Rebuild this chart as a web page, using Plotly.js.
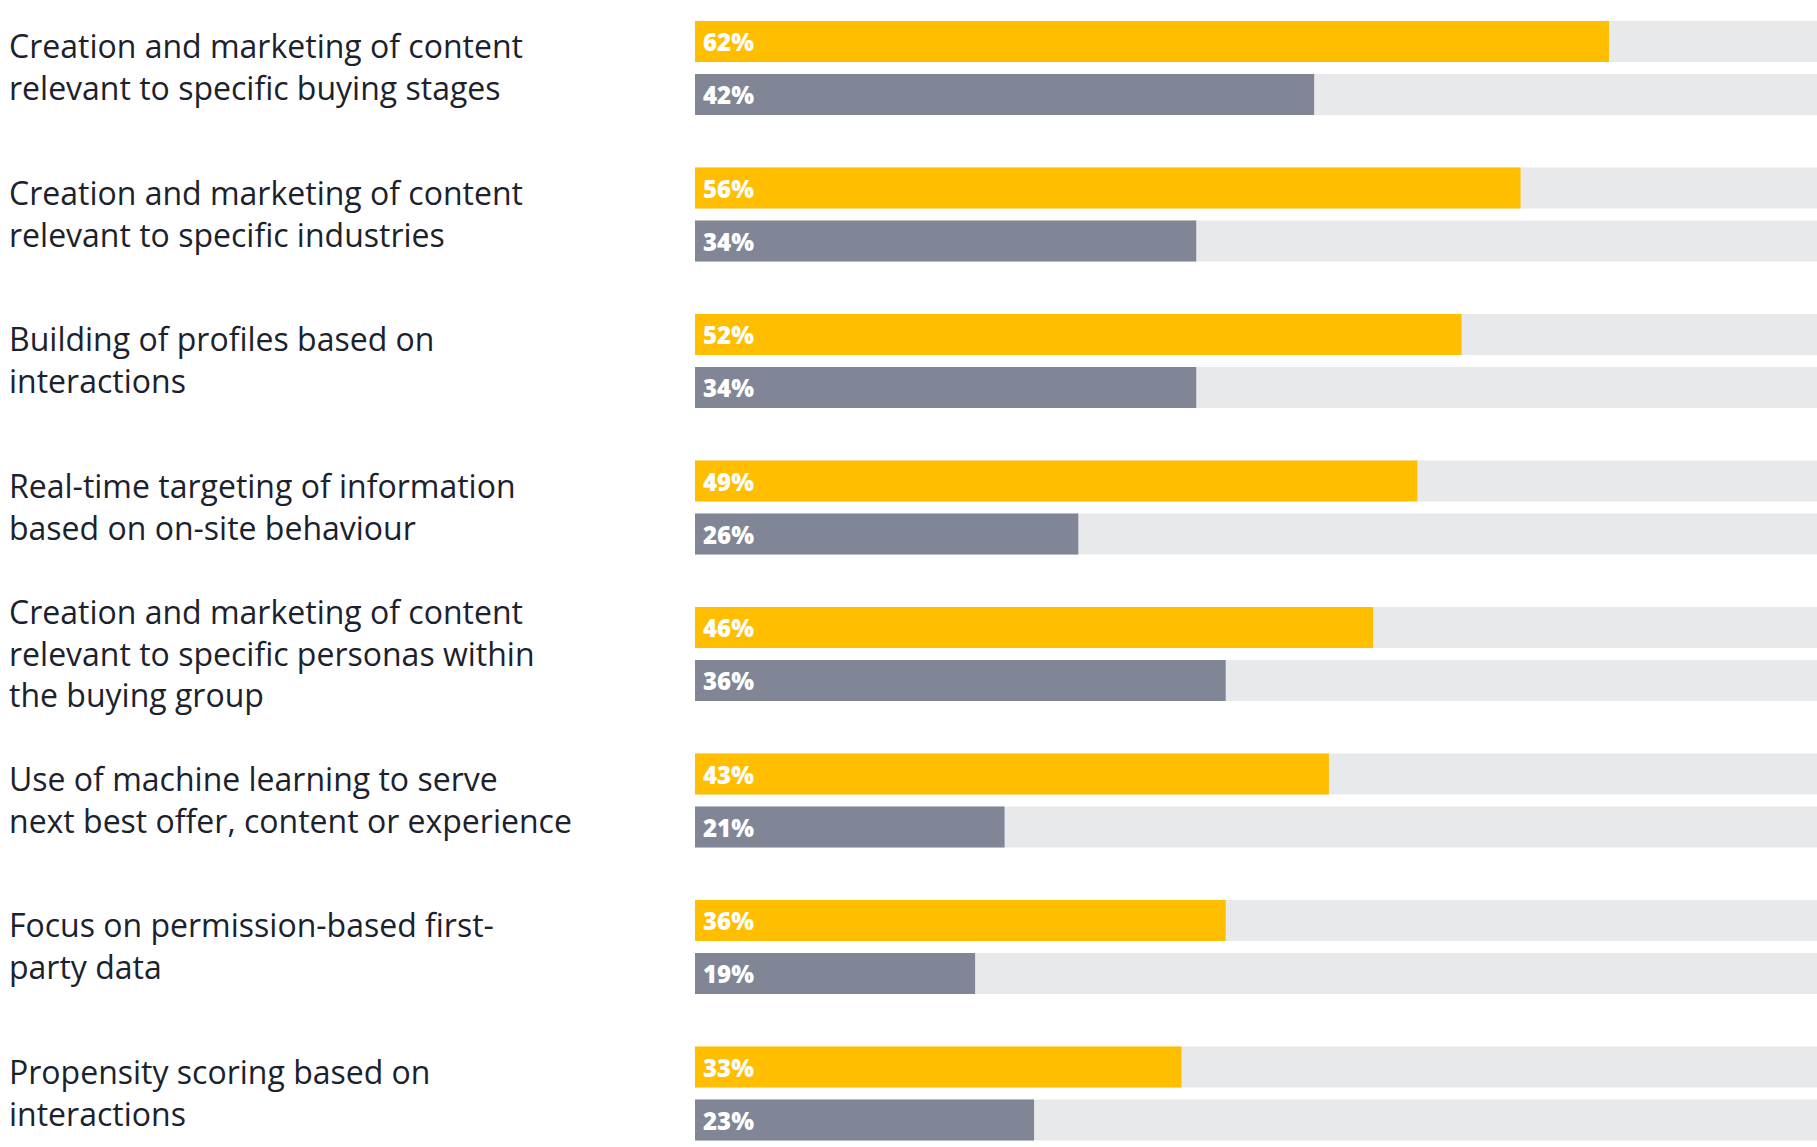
<!DOCTYPE html>
<html>
<head>
<meta charset="utf-8">
<script src="https://cdn.plot.ly/plotly-3.0.1.min.js"></script>
<style>html,body{margin:0;padding:0;background:#fff;}#chart{width:1817px;height:1147px;}</style>
</head>
<body>
<div id="chart"></div>
<script>
const categories = [
  "Creation and marketing of content<br>relevant to specific buying stages",
  "Creation and marketing of content<br>relevant to specific industries",
  "Building of profiles based on<br>interactions",
  "Real-time targeting of information<br>based on on-site behaviour",
  "Creation and marketing of content<br>relevant to specific personas within<br>the buying group",
  "Use of machine learning to serve<br>next best offer, content or experience",
  "Focus on permission-based first-<br>party data",
  "Propensity scoring based on<br>interactions"
];
const seriesA = [62, 56, 52, 49, 46, 43, 36, 33];
const seriesB = [42, 34, 34, 26, 36, 21, 19, 23];
const fullScale = 100;

const pitch = 146.5, barPx = 41, offPx = 53, topPx = 41.5, H = 1147;
const idx = categories.map((_, i) => i);
const yA = idx.map(i => i);
const yB = idx.map(i => i + offPx / pitch);
const w = barPx / pitch;

const bg = {
  type: 'bar', orientation: 'h',
  x: idx.concat(idx).map(() => fullScale),
  y: yA.concat(yB),
  width: w, marker: {color: '#E8E9EB'},
  hoverinfo: 'skip', showlegend: false
};
const tA = {
  type: 'bar', orientation: 'h', x: seriesA, y: yA, width: w,
  marker: {color: '#FFBE00'}, hoverinfo: 'skip', showlegend: false
};
const tB = {
  type: 'bar', orientation: 'h', x: seriesB, y: yB, width: w,
  marker: {color: '#808696'}, hoverinfo: 'skip', showlegend: false
};

const annotations = [];
categories.forEach((c, i) => {
  annotations.push({
    xref: 'paper', yref: 'y', x: 7 / 1817, y: i + (offPx / pitch) / 2 - 0.01,
    xanchor: 'left', yanchor: 'middle', align: 'left', showarrow: false,
    text: c, font: {family: '"Open Sans", sans-serif', size: 32, color: '#1C222D'}
  });
  annotations.push({
    xref: 'x', yref: 'y', x: 0, y: yA[i], xanchor: 'left', yanchor: 'middle',
    xshift: 6, showarrow: false, text: seriesA[i] + '%',
    font: {family: '"Open Sans", sans-serif', size: 24, color: '#FFFFFF', weight: 800}
  });
  annotations.push({
    xref: 'x', yref: 'y', x: 0, y: yB[i], xanchor: 'left', yanchor: 'middle',
    xshift: 6, showarrow: false, text: seriesB[i] + '%',
    font: {family: '"Open Sans", sans-serif', size: 24, color: '#FFFFFF', weight: 800}
  });
});

const pxPerPct = (1609 - 695) / 62;
const layout = {
  width: 1817, height: 1147,
  margin: {l: 0, r: 0, t: 0, b: 0, pad: 0},
  paper_bgcolor: '#FFFFFF', plot_bgcolor: '#FFFFFF',
  barmode: 'overlay',
  xaxis: {domain: [695 / 1817, 1], range: [0, (1817 - 695) / pxPerPct],
          showgrid: false, zeroline: false, showticklabels: false, ticks: '', fixedrange: true},
  yaxis: {range: [(H - topPx) / pitch, -topPx / pitch], showgrid: false, zeroline: false,
          showticklabels: false, ticks: '', fixedrange: true},
  annotations: annotations,
  showlegend: false
};
Plotly.newPlot('chart', [bg, tA, tB], layout, {displayModeBar: false, staticPlot: true});
</script>
</body>
</html>
